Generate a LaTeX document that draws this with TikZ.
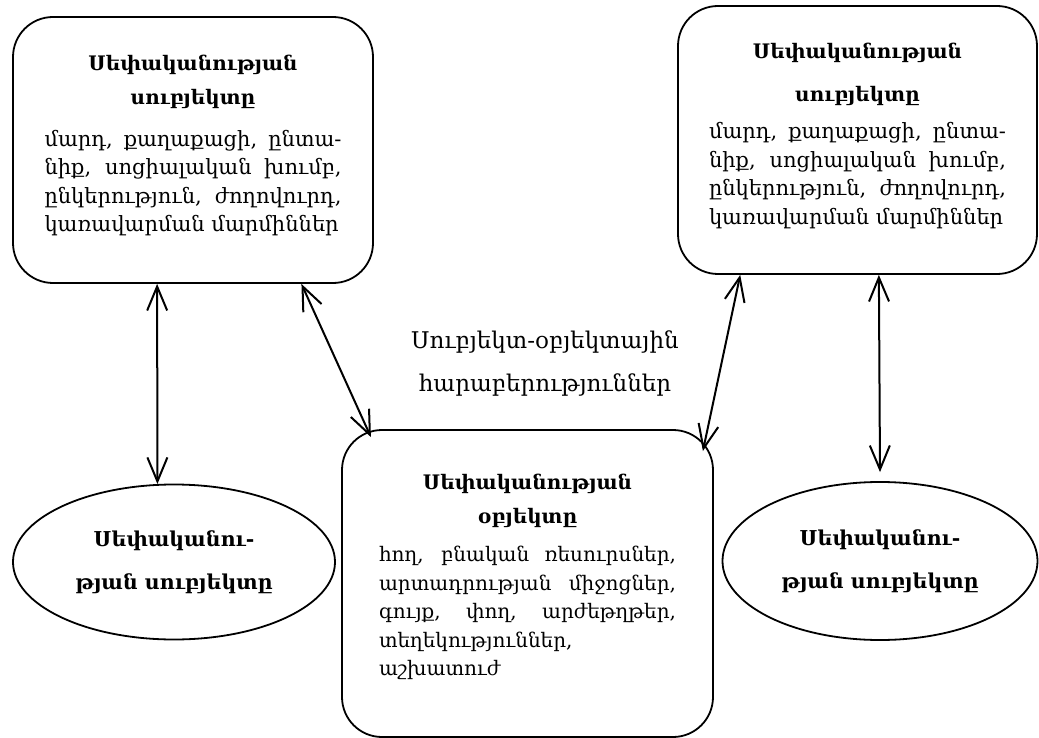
\documentclass[tikz,border=0pt]{standalone}
\usepackage{fontspec}
\setmainfont{DejaVu Serif}
\usetikzlibrary{shapes.geometric,arrows.meta,positioning}

\begin{document}
\begin{tikzpicture}[x=1pt,y=-1pt,
		ownerbox/.style={draw,line width=1.8pt,rounded corners=40pt,inner sep=0pt},
		ownerell/.style={draw,ellipse,line width=1.8pt,inner sep=0pt,align=center,font=\fontsize{20.5}{43}\selectfont\bfseries},
		boxtext/.style={text width=297pt,align=justify,inner sep=0pt,font=\fontsize{21}{28.5}\selectfont},
		dblarrow/.style={{Straight Barb[length=24pt,width=20pt]}-{Straight Barb[length=24pt,width=20pt]},line width=2pt}]
		\useasboundingbox (0,0) rectangle (1039,738);

		% subject boxes
		\node[ownerbox,minimum width=360pt,minimum height=266pt] (subjL) at (193,150) {};
		\node[boxtext,below=39pt of subjL.north] (subjLtext) {{\centering\bfseries\fontsize{20}{34}\selectfont Սեփականության\\ սուբյեկտը\par}\vspace{13pt}
			մարդ, քաղաքացի, ընտա-\linebreak
			նիք, սոցիալական խումբ,\linebreak
			ընկերություն, ժողովուրդ,\linebreak
			կառավարման մարմիններ};

		\node[ownerbox,minimum width=359pt,minimum height=268pt] (subjR) at (857.5,140) {};
		\node[boxtext,below=38pt of subjR.north] (subjRtext) {{\centering\bfseries\fontsize{20}{43}\selectfont Սեփականության\\ սուբյեկտը\par}\vspace{8.5pt}
			մարդ, քաղաքացի, ընտա-\linebreak
			նիք, սոցիալական խումբ,\linebreak
			ընկերություն, ժողովուրդ,\linebreak
			կառավարման մարմիններ};

		% object box
		\node[ownerbox,minimum width=371pt,minimum height=307pt] (objM) at (527.5,583.5) {};
		\node[boxtext,below=45pt of objM.north] (objMtext) {{\centering\bfseries\fontsize{20}{34}\selectfont Սեփականության\\ օբյեկտը\par}\vspace{9.5pt}
			\fontsize{20}{28}\selectfont
			հող, բնական ռեսուրսներ,\linebreak
			արտադրության միջոցներ,\linebreak
			գույք, փող, արժեթղթեր,\linebreak
			տեղեկություններ,\\
			աշխատուժ};

		% ellipses
		\node[ownerell,minimum width=322pt,minimum height=155pt] (ellL) at (174,562) {Սեփականու-\\թյան սուբյեկտը};
		\node[ownerell,minimum width=315pt,minimum height=158pt] (ellR) at (880,561) {Սեփականու-\\թյան սուբյեկտը};

		\node[align=center,font=\fontsize{23}{43}\selectfont] (rel) at (545,364) {Սուբյեկտ-օբյեկտային\\ հարաբերություններ};

		\draw[dblarrow] (subjL.255) -- (ellL.102);
		\draw[dblarrow] (subjL.309) -- ([xshift=9pt,yshift=-8pt]objM.137);
		\draw[dblarrow] (subjR.229) -- ([xshift=-11pt,yshift=-8pt]objM.37);
		\draw[dblarrow] (subjR.279) -- ([yshift=9pt]ellR.north);
	\end{tikzpicture}
\end{document}
